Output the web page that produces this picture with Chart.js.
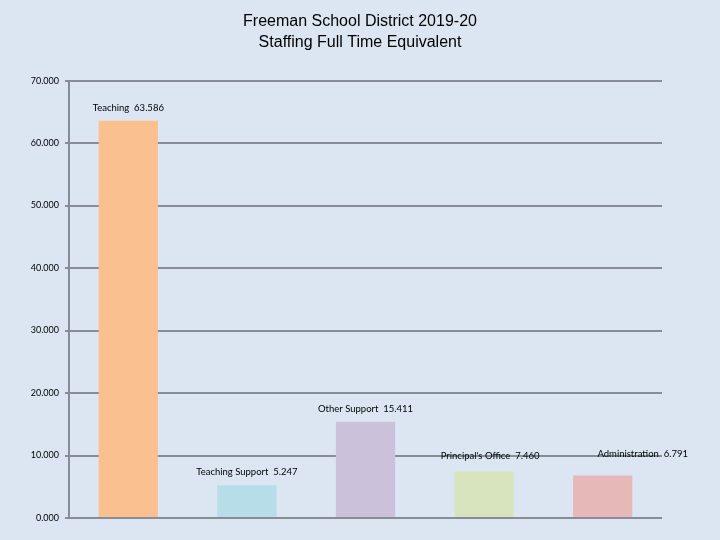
<!DOCTYPE html>
<html lang="en">
<head>
    <meta charset="UTF-8">
    <title>Freeman School District Staffing</title>
    <style>
        html, body { margin: 0; padding: 0; background: #dce6f2; }
        #wrap { width: 720px; height: 540px; }
    </style>
</head>
<body>
    <div id="wrap"><canvas id="myChart" width="720" height="540"></canvas></div>

    <script src="https://cdn.jsdelivr.net/npm/chart.js"></script>
    <script>
        // data
        const categories = ['Teaching', 'Teaching Support', 'Other Support', "Principal's Office", 'Administration'];
        const fte = [63.586, 5.247, 15.411, 7.460, 6.791];
        const barColors = ['#fac090', '#b7dde8', '#ccc1da', '#d7e4bd', '#e6b9b8'];
        const yTicks = [0, 10, 20, 30, 40, 50, 60, 70];

        const gridGrey = '#888c94';

        // label above each bar, "Name  value"
        const barLabels = {
            id: 'barLabels',
            afterDatasetsDraw(chart, args, opts) {
                const ctx = chart.ctx;
                const meta = chart.getDatasetMeta(0);
                ctx.save();
                ctx.font = '9.5px Lato';
                ctx.fillStyle = '#000';
                ctx.textAlign = 'center';
                ctx.textBaseline = 'middle';
                meta.data.forEach((bar, i) => {
                    const off = opts.offsets[i] || [0, 0];
                    const txt = categories[i] + '  ' + fte[i].toFixed(3);
                    ctx.fillText(txt, bar.x + off[0], bar.y - 13 + off[1]);
                });
                ctx.restore();
            }
        };

        const config = {
            type: 'bar',
            data: {
                labels: categories,
                datasets: [{
                    data: fte,
                    backgroundColor: barColors,
                    barPercentage: 0.5,
                    categoryPercentage: 1
                }]
            },
            options: {
                responsive: false,
                animation: false,
                layout: { padding: { left: 0, right: 0, top: 0, bottom: 22 } },
                plugins: {
                    legend: { display: false },
                    tooltip: { enabled: false },
                    title: {
                        display: true,
                        text: ['Freeman School District 2019-20', 'Staffing Full Time Equivalent'],
                        color: '#000',
                        font: { family: 'Liberation Sans', size: 16, weight: 'normal', lineHeight: 1.3 },
                        padding: { top: 11, bottom: 28 }
                    },
                    barLabels: {
                        offsets: [[0, 0], [0, 0], [0, 0], [6, -2], [40, -9]]
                    }
                },
                scales: {
                    x: {
                        display: false
                    },
                    y: {
                        min: 0,
                        max: 70,
                        afterBuildTicks: (axis) => { axis.ticks = yTicks.map(v => ({ value: v })); },
                        afterFit: (axis) => { axis.width = 69; },
                        border: { color: gridGrey, width: 2 },
                        grid: { color: gridGrey, lineWidth: 2, tickLength: 4, drawTicks: true },
                        ticks: {
                            color: '#000',
                            padding: 6,
                            font: { family: 'Lato', size: 9 },
                            callback: (v) => v.toFixed(3)
                        }
                    },
                    // empty right axis, only keeps the plot clear of the right edge
                    yRight: {
                        position: 'right',
                        min: 0,
                        max: 70,
                        afterFit: (axis) => { axis.width = 58; },
                        border: { display: false },
                        grid: { display: false, drawTicks: false },
                        ticks: { display: false }
                    }
                }
            },
            plugins: [barLabels]
        };

        const ctx = document.getElementById('myChart').getContext('2d');
        new Chart(ctx, config);
    </script>
</body>
</html>
